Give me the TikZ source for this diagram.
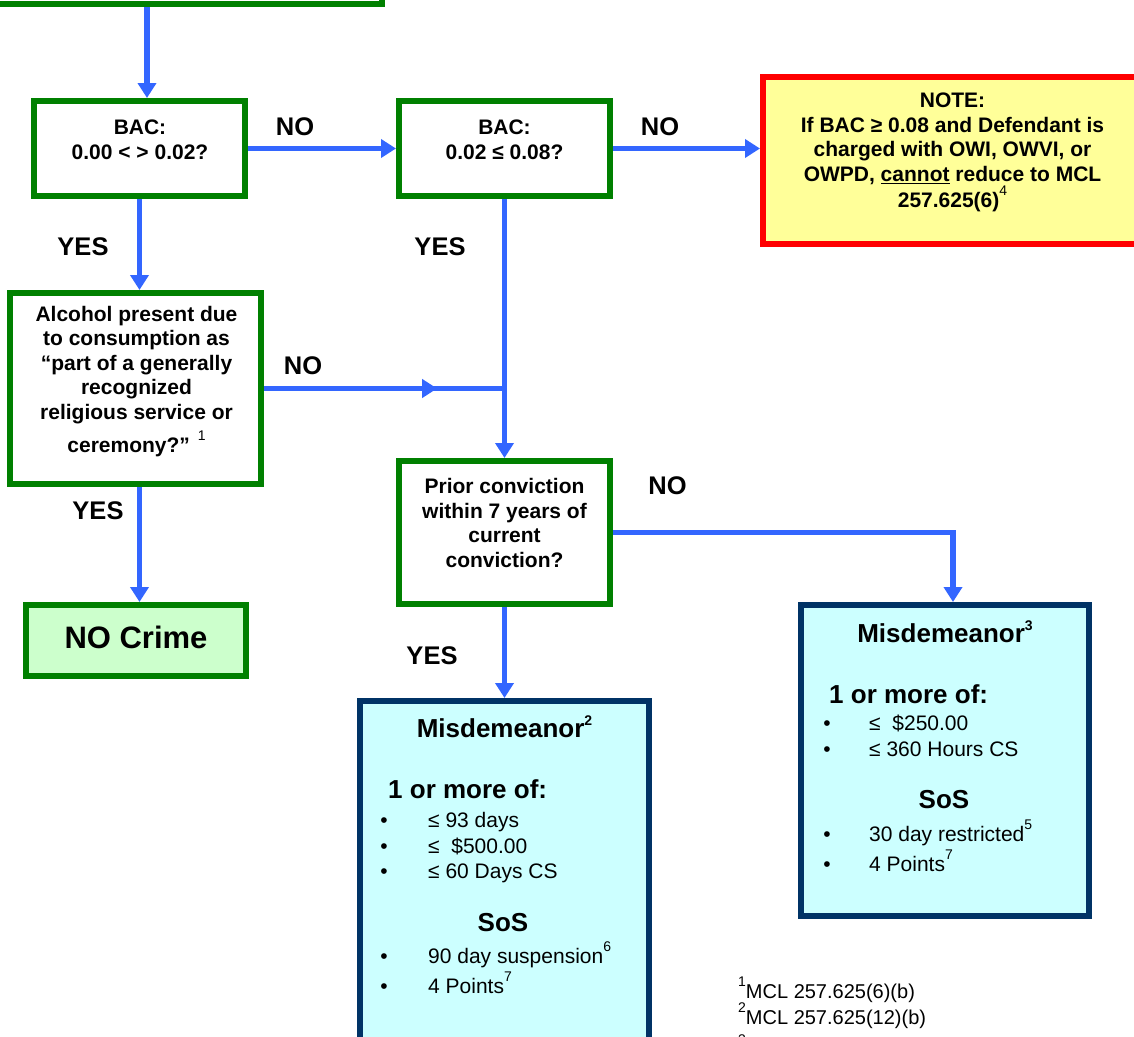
\documentclass[tikz,border=0pt]{standalone}
\usepackage{fontspec}
\setmainfont{Liberation Sans}
\usetikzlibrary{arrows.meta,decorations.markings}
\definecolor{gr}{HTML}{008000}
\definecolor{bl}{HTML}{3366FF}
\definecolor{nv}{HTML}{003366}
\definecolor{cy}{HTML}{CCFFFF}
\definecolor{ye}{HTML}{FFFF99}
\definecolor{lg}{HTML}{CCFFCC}
\newcommand\mysup[2][14]{\raisebox{12pt}{\fontsize{#1}{#1}\selectfont #2}}
\begin{document}
\begin{tikzpicture}[x=1pt,y=-1pt,
  gbox/.style={draw=gr,line width=6pt,fill=white,inner sep=0pt},
  nbox/.style={draw=nv,line width=6pt,fill=cy,inner sep=0pt},
  btxt/.style={font=\fontsize{21}{24.5}\selectfont\bfseries,align=center,anchor=base,inner sep=0pt},
  lbl/.style={font=\fontsize{25.5}{30}\selectfont\bfseries,anchor=base,inner sep=0pt},
  mtitle/.style={font=\fontsize{26}{30}\selectfont\bfseries,anchor=base,inner sep=0pt},
  mitem/.style={font=\fontsize{21}{24}\selectfont,anchor=base west,inner sep=0pt},
  bul/.style={font=\fontsize{21}{24}\selectfont,anchor=base,inner sep=0pt},
  fn/.style={font=\fontsize{20}{24}\selectfont,anchor=base west,inner sep=0pt},
  arr/.style={draw=bl,line width=5.5pt,-{Triangle[width=18pt,length=15pt]}},
  ln/.style={draw=bl,line width=5.5pt}]
\useasboundingbox (0,0) rectangle (1134,1036);
\clip (0,0) rectangle (1134,1036);
\fill[white] (0,0) rectangle (1134,1036);
% boxes
\node[gbox,minimum width=402pt,minimum height=104pt] (start) at (181,-48) {};
\node[gbox,minimum width=211pt,minimum height=95pt] (bac1) at (139.5,148.5) {};
\node[gbox,minimum width=211pt,minimum height=95pt] (bac2) at (504.5,148.5) {};
\node[draw=red,fill=ye,line width=6pt,inner sep=0pt,minimum width=379pt,minimum height=167pt] (note) at (952.5,160.5) {};
\node[gbox,minimum width=251pt,minimum height=191pt] (alc) at (135.5,388.5) {};
\node[gbox,fill=lg,minimum width=220pt,minimum height=71pt] (nocrime) at (136,640.5) {};
\node[gbox,minimum width=211pt,minimum height=143pt] (prior) at (504.5,532.5) {};
\node[nbox,minimum width=289pt,minimum height=376pt] (mis2) at (504.5,889) {};
\node[nbox,minimum width=288pt,minimum height=311pt] (mis3) at (945,760.5) {};
% box texts (anchor base = baseline of last line)
\node[btxt] (tbac1) at (140,159) {BAC:\\0.00 < > 0.02?};
\node[btxt] (tbac2) at (504.5,159) {BAC:\\0.02 ≤ 0.08?};
\node[btxt] (tnote) at (952.5,207) {NOTE:\\If BAC ≥ 0.08 and Defendant is\\charged with OWI, OWVI, or\\OWPD, \underline{cannot} reduce to MCL\\257.625(6)\mysup{\mdseries 4}};
\node[btxt] (talc) at (136.5,452) {Alcohol present due\\to consumption as\\“part of a generally\\recognized\\religious service or\\[5.5pt]ceremony?” \mysup{\mdseries 1}};
\node[btxt] (tprior) at (504.5,567) {Prior conviction\\within 7 years of\\current\\conviction?};
\node[font=\fontsize{31}{36}\selectfont\bfseries,anchor=base,inner sep=0pt] (tnc) at (136,648) {NO Crime};
% misdemeanor 3
\node[mtitle] (m3t) at (945,642) {Misdemeanor\mysup{3}};
\node[mtitle,anchor=base west] (m3a) at (829,703) {1 or more of:};
\node[bul] (m3b1) at (827,730) {•};
\node[mitem] (m3i1) at (869,730) {≤\ \ \$250.00};
\node[bul] (m3b2) at (827,756) {•};
\node[mitem] (m3i2) at (869,756) {≤ 360 Hours CS};
\node[mtitle] (m3s) at (944,808) {SoS};
\node[bul] (m3b3) at (827,841) {•};
\node[mitem] (m3i3) at (869,841) {30 day restricted\mysup{5}};
\node[bul] (m3b4) at (827,871) {•};
\node[mitem] (m3i4) at (869,871) {4 Points\mysup{7}};
% misdemeanor 2
\node[mtitle] (m2t) at (504.5,737) {Misdemeanor\mysup{2}};
\node[mtitle,anchor=base west] (m2a) at (388,798) {1 or more of:};
\node[bul] (m2b1) at (384,827) {•};
\node[mitem] (m2i1) at (428,827) {≤ 93 days};
\node[bul] (m2b2) at (384,853) {•};
\node[mitem] (m2i2) at (428,853) {≤\ \ \$500.00};
\node[bul] (m2b3) at (384,878) {•};
\node[mitem] (m2i3) at (428,878) {≤ 60 Days CS};
\node[mtitle] (m2s) at (503,931) {SoS};
\node[bul] (m2b4) at (384,963) {•};
\node[mitem] (m2i4) at (428,963) {90 day suspension\mysup{6}};
\node[bul] (m2b5) at (384,993) {•};
\node[mitem] (m2i5) at (428,993) {4 Points\mysup{7}};
% footnotes
\node[fn] (f1) at (738,998) {\mysup{1}MCL 257.625(6)(b)};
\node[fn] (f2) at (738,1024) {\mysup{2}MCL 257.625(12)(b)};
\node[fn] (f3) at (738,1056) {\mysup{3}};
% connectors
\coordinate (topx) at (147,0);
\draw[arr] (topx |- start.south) -- (topx |- bac1.north);
\draw[arr] (bac1.east) -- (bac2.west);
\draw[arr] (bac2.east) -- (bac2.east -| note.west);
\draw[arr] (bac1.south) -- (bac1.south |- alc.north);
\draw[arr] (bac1.south |- alc.south) -- (bac1.south |- nocrime.north);
\coordinate (jn) at (bac2.south |- alc.east);
\draw[ln,postaction={decorate},decoration={markings,mark=at position 0.72 with {\arrow{Triangle[width=18pt,length=15pt]}}}] (alc.east) -- (jn);
\draw[arr] (bac2.south) -- (prior.north);
\draw[arr] (prior.south) -- (mis2.north);
\draw[arr] (prior.east) -| ([xshift=8pt]mis3.north);
% labels
\node[lbl] (l1) at (295,135) {NO};
\node[lbl] (l2) at (660,135) {NO};
\node[lbl] (l3) at (83,255) {YES};
\node[lbl] (l4) at (440,255) {YES};
\node[lbl] (l5) at (303,374) {NO};
\node[lbl] (l6) at (98,519) {YES};
\node[lbl] (l7) at (667.5,494) {NO};
\node[lbl] (l8) at (432,664) {YES};
\end{tikzpicture}
\end{document}
